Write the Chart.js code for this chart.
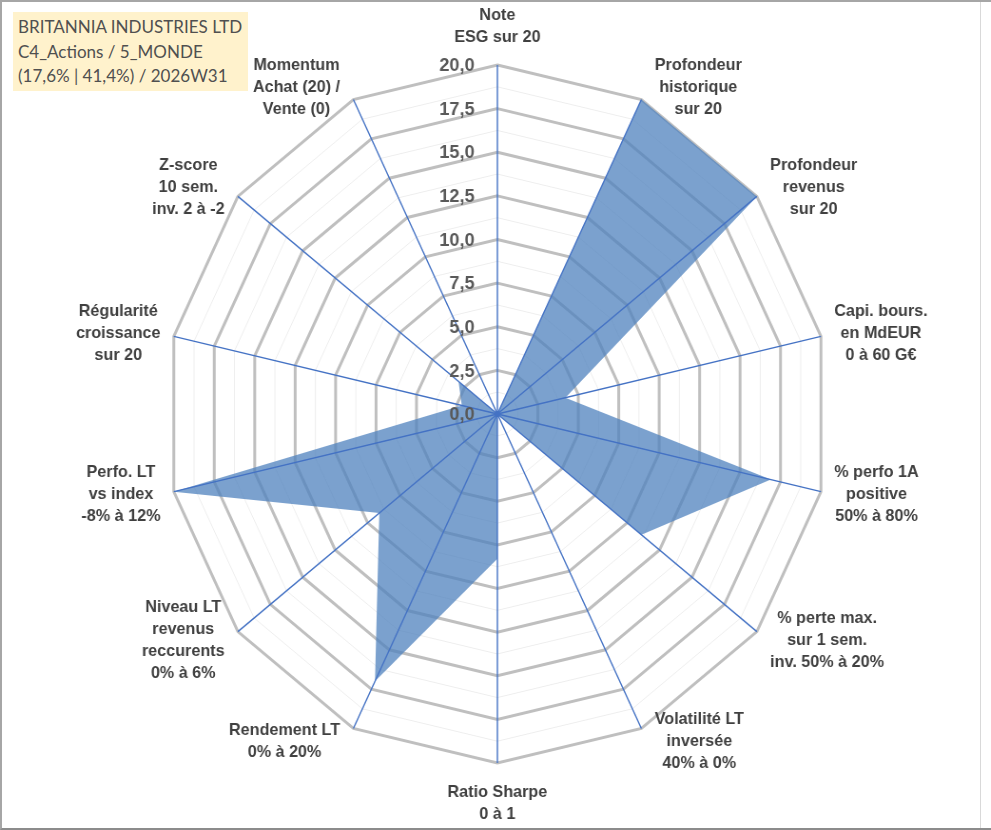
<!DOCTYPE html>
<html><head><meta charset="utf-8">
<script src="https://cdn.jsdelivr.net/npm/chart.js@4.4.1/dist/chart.umd.min.js"></script>
<style>
html,body{margin:0;padding:0;background:#fff;overflow:hidden;width:991px;height:830px;}
#wrap{position:absolute;left:0;top:0;width:1042px;height:830px;transform:scaleX(0.951);transform-origin:0 0;}
#frame{position:absolute;left:0;top:0;width:991px;height:830px;box-sizing:border-box;border-left:2px solid #a6a6a6;border-top:2px solid #a6a6a6;border-bottom:2px solid #8c8c8c;pointer-events:none;}
#vline{position:absolute;left:980px;top:0;width:1px;height:830px;background:#d9d9d9;}
#title{position:absolute;left:13px;top:12px;width:235px;height:79px;background:#FFF2CC;color:#505050;font-family:Lato,"Open Sans",sans-serif;}
#title div{position:absolute;left:5px;height:24.5px;line-height:24.5px;white-space:nowrap;}
</style>
</head><body>
<div id="wrap"><canvas id="c" width="1042" height="830"></canvas></div>
<div id="vline"></div>
<div id="frame"></div>
<div id="title"></div>
<script>
// ---- data ----
const titleLines = ["BRITANNIA INDUSTRIES LTD", "C4_Actions / 5_MONDE", "(17,6% | 41,4%) / 2026W31"];
const categories = [
  ["Note", "ESG sur 20"],
  ["Profondeur", "historique", "sur 20"],
  ["Profondeur", "revenus", "sur 20"],
  ["Capi. bours.", "en MdEUR", "0 à 60 G€"],
  ["% perfo 1A", "positive", "50% à 80%"],
  ["% perte max.", "sur 1 sem.", "inv. 50% à 20%"],
  ["Volatilité LT", "inversée", "40% à 0%"],
  ["Ratio Sharpe", "0 à 1"],
  ["Rendement LT", "0% à 20%"],
  ["Niveau LT", "revenus", "reccurents", "0% à 6%"],
  ["Perfo. LT", "vs index", "-8% à 12%"],
  ["Régularité", "croissance", "sur 20"],
  ["Z-score", "10 sem.", "inv. 2 à -2"],
  ["Momentum", "Achat (20) /", "Vente (0)"]
];
const scores = [0, 20, 20, 4.2, 16.9, 11.1, 0, 8.3, 17.0, 9.1, 20, 2.2, 3.0, 0];
const tickValues = [0, 2.5, 5, 7.5, 10, 12.5, 15, 17.5, 20];
const scaleMin = 0, scaleMax = 20, gridStep = 1.25, majorStep = 2.5;

// ---- title box ----
const tb = document.getElementById('title');
const mctx = document.createElement('canvas').getContext('2d');
mctx.font = '19px Lato';
const fs = 19 * 225 / mctx.measureText(titleLines[0]).width;
titleLines.forEach((t, k) => {
  const d = document.createElement('div');
  d.textContent = t; d.style.top = (3 + k * 24.5) + 'px'; d.style.fontSize = fs + 'px';
  tb.appendChild(d);
});

// ---- chart ----
const LABEL_FONT = 'bold 17px "Liberation Sans", Arial, sans-serif';
const TICK_FONT = 'bold 19px "Liberation Sans", Arial, sans-serif';
const deco = {
  id: 'deco',
  afterDatasetsDraw(chart) {
    const s = chart.scales.r, ctx = chart.ctx;
    ctx.save();
    ctx.strokeStyle = '#4472C4'; ctx.lineWidth = 1.4;
    for (let i = 0; i < categories.length; i++) {
      const p = s.getPointPositionForValue(i, scaleMax);
      ctx.beginPath(); ctx.moveTo(s.xCenter, s.yCenter); ctx.lineTo(p.x, p.y); ctx.stroke();
    }
    ctx.fillStyle = '#4472C4';
    ctx.beginPath(); ctx.arc(s.xCenter, s.yCenter, 3, 0, Math.PI * 2); ctx.fill();
    ctx.font = TICK_FONT; ctx.fillStyle = '#595959'; ctx.textAlign = 'right'; ctx.textBaseline = 'middle';
    tickValues.forEach(v => {
      const d = s.getDistanceFromCenterForValue(v);
      ctx.fillText(v.toFixed(1).replace('.', ','), s.xCenter - 24, s.yCenter - d + 1);
    });
    ctx.font = LABEL_FONT; ctx.fillStyle = '#404040'; ctx.textAlign = 'center';
    const lh = 22;
    categories.forEach((lines, i) => {
      const a = s.getIndexAngle(i), sn = Math.sin(a), cs = Math.cos(a);
      const p = s.getPointPosition(i, s.drawingArea);
      const h = lines.length * lh;
      const w = Math.max(...lines.map(t => ctx.measureText(t).width));
      let cx, top;
      if (Math.abs(sn) < 0.01) { cx = p.x; top = cs > 0 ? p.y - 17 - h : p.y + 18; }
      else { cx = sn > 0 ? p.x + 14 + w / 2 : p.x - 14 - w / 2; top = p.y - 14 * cs - h / 2; }
      lines.forEach((t, k) => ctx.fillText(t, cx, top + lh * (k + 0.5)));
    });
    ctx.restore();
  }
};
const isMajor = v => Math.abs(v / majorStep - Math.round(v / majorStep)) < 1e-6;
new Chart(document.getElementById('c'), {
  type: 'radar',
  data: {
    labels: categories,
    datasets: [{
      data: scores,
      backgroundColor: 'rgba(79,129,189,0.75)',
      borderColor: 'rgba(79,129,189,0.75)',
      borderWidth: 0,
      pointRadius: 0,
      fill: true
    }]
  },
  options: {
    responsive: false,
    animation: false,
    devicePixelRatio: 1,
    layout: { padding: { left: 174, right: 170, top: 65, bottom: 67 } },
    plugins: { legend: { display: false }, tooltip: { enabled: false } },
    scales: {
      r: {
        min: scaleMin, max: scaleMax,
        ticks: { display: false, stepSize: gridStep },
        pointLabels: { display: false },
        angleLines: { display: false },
        grid: {
          color: c => isMajor(c.tick.value) ? '#BFBFBF' : '#EEEEEE',
          lineWidth: c => isMajor(c.tick.value) ? 3 : 1
        }
      }
    }
  },
  plugins: [deco]
});
</script>
</body></html>
